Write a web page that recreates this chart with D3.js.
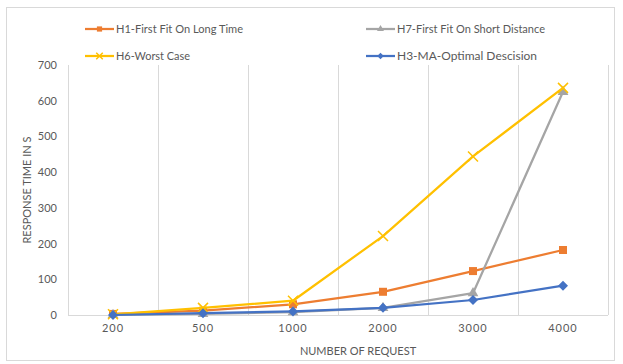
<!DOCTYPE html>
<html><head><meta charset="utf-8">
<script src="https://cdn.jsdelivr.net/npm/d3@7"></script>
<style>body{margin:0;background:#fff}svg{display:block}text{font-family:Lato,"Open Sans",sans-serif}</style>
</head><body><svg id="c" width="623" height="364"></svg>
<script>
const categories = ["200","500","1000","2000","3000","4000"];
const yTicks = [0,100,200,300,400,500,600,700];
const h1Values = [3,12,30,65,123,182];
const h7Values = [0,3,8,20,61,625];
const h6Values = [2,20,40,221,444,636];
const h3Values = [0,5,10,20,42,82];
const seriesNames = ["H1-First Fit On Long Time","H7-First Fit On Short Distance","H6-Worst Case","H3-MA-Optimal Descision"];
const seriesColors = ["#ED7D31","#A5A5A5","#FFC000","#4472C4"];
const seriesMarkers = ["square","triangle","x","diamond"];
const series = [h1Values,h7Values,h6Values,h3Values].map((v,i)=>({name:seriesNames[i],color:seriesColors[i],marker:seriesMarkers[i],values:v}));

const svg = d3.select("#c");
svg.append("rect").attr("x",6.5).attr("y",7.5).attr("width",608).attr("height",353).attr("fill","#fff").attr("stroke","#d9d9d9");

const x = d3.scaleBand().domain(categories).range([68,608]);
const y = d3.scaleLinear().domain([0,700]).range([315,65]);

const edges = categories.map(c=>x(c)).concat([x.range()[1]]);
svg.append("g").selectAll("line").data(edges).join("line")
  .attr("x1",d=>d+0.5).attr("x2",d=>d+0.5).attr("y1",y(700)).attr("y2",y(0))
  .attr("stroke","#d9d9d9").attr("stroke-width",1);
svg.append("line").attr("x1",68).attr("x2",608).attr("y1",y(0)+0.5).attr("y2",y(0)+0.5).attr("stroke","#d9d9d9");

const ya = svg.append("g").attr("transform","translate(57,0)").call(d3.axisLeft(y).tickValues(yTicks).tickSize(0).tickPadding(0));
ya.select(".domain").remove();
ya.selectAll("text").attr("fill","#595959").style("font-size","11px").style("font-family","Lato,'Open Sans',sans-serif");

const xa = svg.append("g").attr("transform","translate(0,"+(y(0)+9)+")").call(d3.axisBottom(x).tickSize(0).tickPadding(0));
xa.select(".domain").remove();
xa.selectAll("text").attr("fill","#595959").style("font-size","11px").style("letter-spacing","1px").style("font-family","Lato,'Open Sans',sans-serif");

svg.append("text").attr("x",358).attr("y",355).attr("text-anchor","middle").attr("fill","#595959").style("font-size","11px").text("NUMBER OF REQUEST");
svg.append("text").attr("transform","translate(31,190) rotate(-90)").attr("text-anchor","middle").attr("fill","#595959").style("font-size","11px").text("RESPONSE TIME IN S");

function marker(g, type, color, k){
  k = k||1;
  if(type==="square"){
    g.append("rect").attr("x",-4*k).attr("y",-4*k).attr("width",8*k).attr("height",8*k).attr("fill",color);
  } else if(type==="triangle"){
    g.append("path").attr("d",d3.symbol(d3.symbolTriangle,50*k*k)()).attr("fill",color);
  } else if(type==="diamond"){
    g.append("path").attr("d",`M0,${-5*k}L${5*k},0L0,${5*k}L${-5*k},0Z`).attr("fill",color);
  } else {
    g.append("path").attr("d",`M${-5*k},${-5*k}L${5*k},${5*k}M${-5*k},${5*k}L${5*k},${-5*k}`).attr("stroke",color).attr("stroke-width",1.5).attr("fill","none");
  }
}

const line = d3.line().x((d,i)=>x(categories[i])+x.bandwidth()/2).y(d=>y(d));
series.forEach(s=>{
  const g = svg.append("g");
  g.append("path").datum(s.values).attr("d",line).attr("fill","none").attr("stroke",s.color).attr("stroke-width",2.25).attr("stroke-linejoin","round");
  s.values.forEach((v,i)=>{
    const m = g.append("g").attr("transform",`translate(${x(categories[i])+x.bandwidth()/2},${y(v)})`);
    marker(m,s.marker,s.color);
  });
});

// legend
const legendPos = [[85,29],[366,29],[85,56],[366,56]];
const legendTextWidth = [127,148,74,140];
series.forEach((s,i)=>{
  const [lx,ly] = legendPos[i];
  const g = svg.append("g").attr("transform",`translate(${lx},${ly})`);
  g.append("line").attr("x1",0).attr("x2",29).attr("stroke",s.color).attr("stroke-width",2.25);
  const m = g.append("g").attr("transform","translate(14.5,0)");
  marker(m,s.marker,s.color,0.65);
  g.append("text").attr("x",31).attr("y",4).attr("fill","#595959").style("font-size","11.5px")
    .attr("textLength",legendTextWidth[i]).attr("lengthAdjust","spacingAndGlyphs").text(s.name);
});
</script></body></html>
